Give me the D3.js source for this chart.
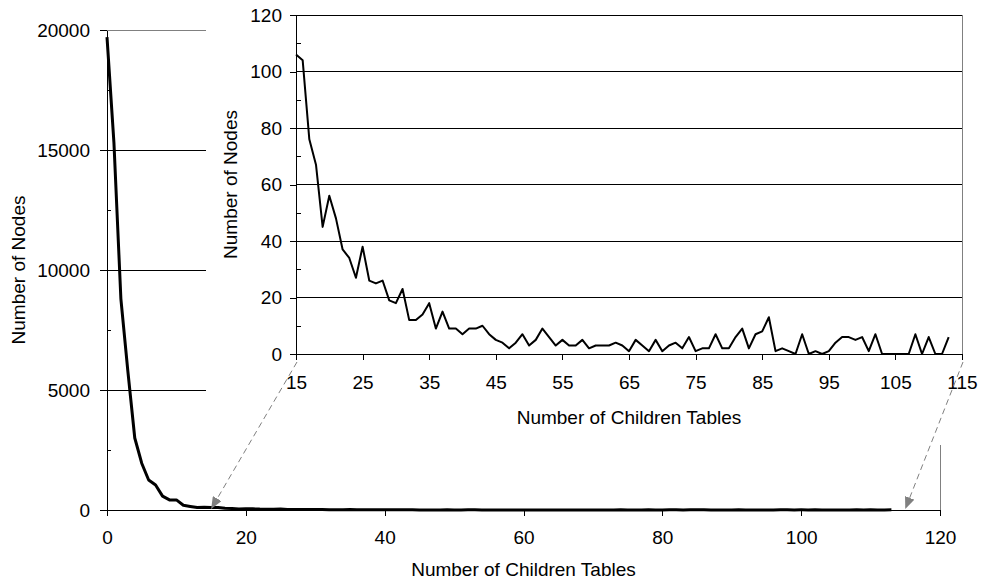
<!DOCTYPE html>
<html>
<head>
<meta charset="utf-8">
<script src="https://cdn.jsdelivr.net/npm/d3@7"></script>
<style>
body { margin: 0; background: #fff; }
text { font-family: "Liberation Sans", Arial, sans-serif; font-size: 19px; fill: #000; }
.axis path, .axis line { stroke: #000; shape-rendering: crispEdges; }
.grid line { stroke: #000; shape-rendering: crispEdges; }
</style>
</head>
<body>
<div id="chart"></div>
<script>
var width = 982,
    height = 584;

// number of nodes having 0,1,2,... children tables (index = number of children)
var nodeCounts = [19700, 15300, 8800, 5800, 3000, 1950, 1250, 1040, 580, 420,
  420, 200, 150, 100, 110, 106, 104, 76, 67, 45,
  56, 48, 37, 34, 27, 38, 26, 25, 26, 19,
  18, 23, 12, 12, 14, 18, 9, 15, 9, 9,
  7, 9, 9, 10, 7, 5, 4, 2, 4, 7,
  3, 5, 9, 6, 3, 5, 3, 3, 5, 2,
  3, 3, 3, 4, 3, 1, 5, 3, 1, 5,
  1, 3, 4, 2, 6, 1, 2, 2, 7, 2,
  2, 6, 9, 2, 7, 8, 13, 1, 2, 1,
  0, 7, 0, 1, 0, 1, 4, 6, 6, 5,
  6, 1, 7, 0, 0, 0, 0, 0, 7, 0,
  6, 0, 0, 6];

var mainXTicks = [0, 20, 40, 60, 80, 100, 120];
var mainYTicks = [0, 5000, 10000, 15000, 20000];
var mainYMinor = [2500, 7500, 12500, 17500];
var zoomRange = [15, 115];
var insetXTicks = [15, 25, 35, 45, 55, 65, 75, 85, 95, 105, 115];
var insetYTicks = [0, 20, 40, 60, 80, 100, 120];
var insetYMinor = [10, 30, 50, 70, 90, 110];

var xTitle = "Number of Children Tables",
    yTitle = "Number of Nodes";

var points = nodeCounts.map(function(v, i) { return {x: i, y: v}; });
var zoomPoints = points.filter(function(d) { return d.x >= zoomRange[0] && d.x <= zoomRange[1]; });

var fmt = d3.format("d");

var svg = d3.select("#chart").append("svg")
    .attr("width", width)
    .attr("height", height);

svg.append("defs").append("marker")
    .attr("id", "arrow")
    .attr("markerUnits", "userSpaceOnUse")
    .attr("viewBox", "0 0 12 10")
    .attr("refX", 12)
    .attr("refY", 5)
    .attr("markerWidth", 12)
    .attr("markerHeight", 10)
    .attr("orient", "auto")
  .append("path")
    .attr("d", "M0,0L12,5L0,10Z")
    .attr("fill", "#808080");

// ---------- main chart ----------
var xMain = d3.scaleLinear().domain([0, 120]).range([107, 940]);
var yMain = d3.scaleLinear().domain([0, 20000]).range([510, 30]);

svg.append("g").attr("class", "grid")
  .selectAll("line").data(mainYTicks.slice(1)).enter().append("line")
    .attr("x1", xMain(0)).attr("x2", xMain(120))
    .attr("y1", d => yMain(d)).attr("y2", d => yMain(d));

svg.append("rect")
    .attr("x", xMain(0)).attr("y", yMain(20000))
    .attr("width", xMain(120) - xMain(0))
    .attr("height", yMain(0) - yMain(20000))
    .attr("fill", "none")
    .attr("stroke", "#808080")
    .attr("shape-rendering", "crispEdges");

svg.append("g").attr("class", "axis")
    .attr("transform", "translate(" + xMain(0) + ",0)")
    .call(d3.axisLeft(yMain).tickValues(mainYTicks).tickFormat(fmt).tickSize(7).tickSizeOuter(0).tickPadding(10));
svg.append("g").attr("class", "axis")
    .attr("transform", "translate(" + xMain(0) + ",0)")
    .call(d3.axisRight(yMain).tickValues(mainYMinor).tickSize(4).tickSizeOuter(0).tickFormat(""))
    .select(".domain").remove();

svg.append("g").attr("class", "axis")
    .attr("transform", "translate(0," + yMain(0) + ")")
    .call(d3.axisBottom(xMain).tickValues(mainXTicks).tickFormat(fmt).tickSize(6).tickSizeOuter(0).tickPadding(15));

svg.append("path")
    .datum(points)
    .attr("fill", "none")
    .attr("stroke", "#000")
    .attr("stroke-width", 3)
    .attr("stroke-linejoin", "round")
    .attr("d", d3.line().x(d => xMain(d.x)).y(d => yMain(d.y)));

svg.append("text")
    .attr("x", (xMain(0) + xMain(120)) / 2)
    .attr("y", 576)
    .attr("text-anchor", "middle")
    .text(xTitle);

svg.append("text")
    .attr("transform", "translate(25," + (yMain(0) + yMain(20000)) / 2 + ") rotate(-90)")
    .attr("text-anchor", "middle")
    .text(yTitle);

// ---------- inset (zoom) chart ----------
var xIn = d3.scaleLinear().domain(zoomRange).range([296, 962]);
var yIn = d3.scaleLinear().domain([0, 120]).range([354, 15]);

svg.append("rect")
    .attr("x", 206).attr("y", 0)
    .attr("width", width - 206).attr("height", 445)
    .attr("fill", "#fff");

svg.append("rect")
    .attr("x", xIn(15)).attr("y", yIn(120))
    .attr("width", xIn(115) - xIn(15))
    .attr("height", yIn(0) - yIn(120))
    .attr("fill", "none")
    .attr("stroke", "#808080")
    .attr("shape-rendering", "crispEdges");

svg.append("g").attr("class", "grid")
  .selectAll("line").data(insetYTicks.slice(1)).enter().append("line")
    .attr("x1", xIn(15)).attr("x2", xIn(115))
    .attr("y1", d => yIn(d)).attr("y2", d => yIn(d));

svg.append("g").attr("class", "axis")
    .attr("transform", "translate(" + xIn(15) + ",0)")
    .call(d3.axisLeft(yIn).tickValues(insetYTicks).tickSize(6).tickSizeOuter(0).tickPadding(8));
svg.append("g").attr("class", "axis")
    .attr("transform", "translate(" + xIn(15) + ",0)")
    .call(d3.axisRight(yIn).tickValues(insetYMinor).tickSize(5).tickSizeOuter(0).tickFormat(""))
    .select(".domain").remove();

svg.append("g").attr("class", "axis")
    .attr("transform", "translate(0," + yIn(0) + ")")
    .call(d3.axisBottom(xIn).tickValues(insetXTicks).tickSize(6).tickSizeOuter(0).tickPadding(16));

// let the css font apply to the axis labels
svg.selectAll(".axis").attr("font-size", null).attr("font-family", null);

svg.append("path")
    .datum(zoomPoints)
    .attr("fill", "none")
    .attr("stroke", "#000")
    .attr("stroke-width", 2)
    .attr("stroke-linejoin", "round")
    .attr("d", d3.line().x(d => xIn(d.x)).y(d => yIn(d.y)));

svg.append("text")
    .attr("x", (xIn(15) + xIn(115)) / 2)
    .attr("y", 424)
    .attr("text-anchor", "middle")
    .text(xTitle);

svg.append("text")
    .attr("transform", "translate(237," + (yIn(0) + yIn(120)) / 2 + ") rotate(-90)")
    .attr("text-anchor", "middle")
    .text(yTitle);

// ---------- dashed arrows linking the zoom range ----------
svg.selectAll(".link").data(zoomRange).enter().append("line")
    .attr("class", "link")
    .attr("x1", d => xIn(d) + 1).attr("y1", yIn(0) + 8)
    .attr("x2", d => xMain(d)).attr("y2", yMain(0) - 1)
    .attr("stroke", "#808080")
    .attr("stroke-width", 1)
    .attr("stroke-dasharray", "6,4")
    .attr("marker-end", "url(#arrow)");
</script>
</body>
</html>
